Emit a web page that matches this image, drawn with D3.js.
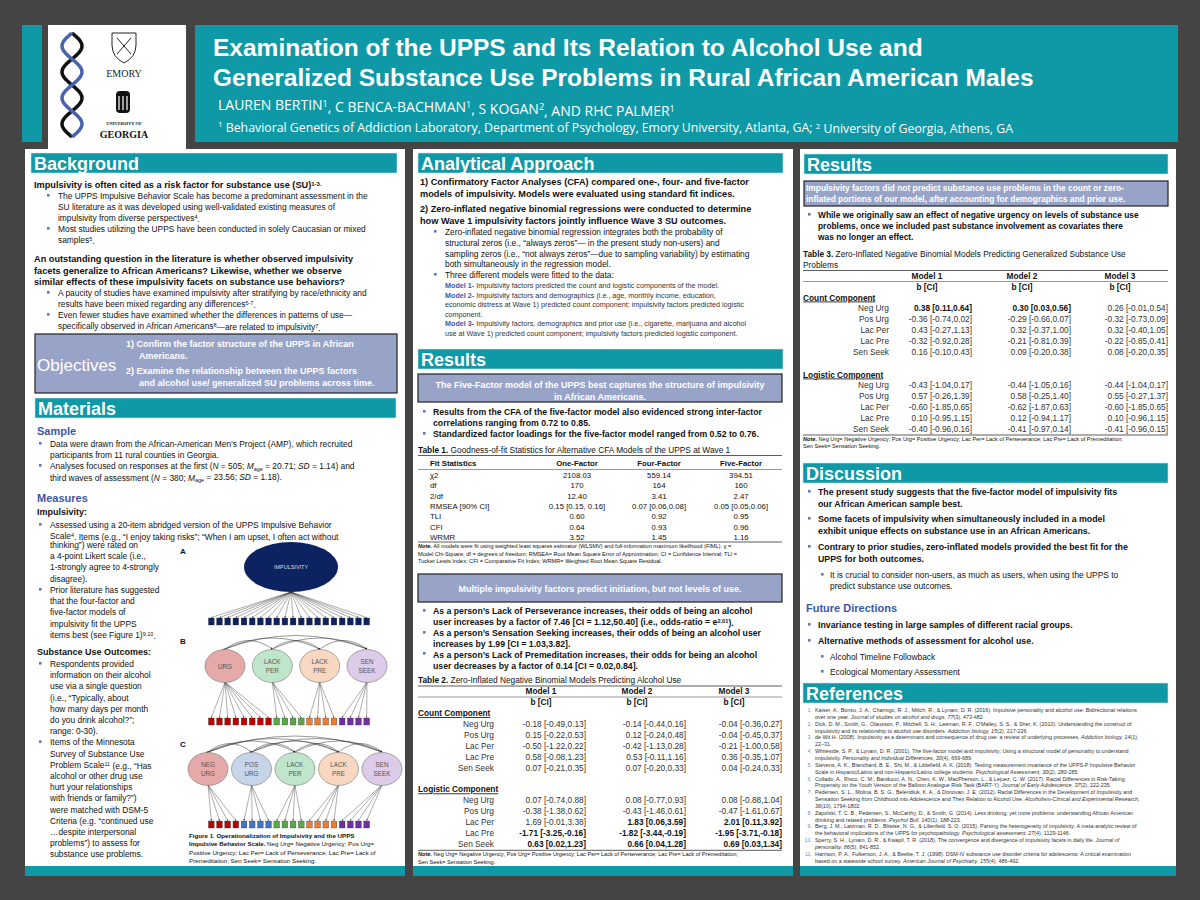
<!DOCTYPE html>
<html>
<head>
<meta charset="utf-8">
<script src="https://cdn.jsdelivr.net/npm/d3@7"></script>
<style>
  body { margin: 0; background: #444; }
  svg { display: block; font-family: "Liberation Sans", Arial, sans-serif; }
</style>
</head>
<body>
<div id="poster"></div>
<script>
// ---- data ----
const fitStats = ["χ2", "df", "2/df", "RMSEA [90% CI]", "TLI", "CFI", "WRMR"];
const fitModels = ["One-Factor", "Four-Factor", "Five-Factor"];
const oneFactor = ["2108.03", "170", "12.40", "0.15 [0.15, 0.16]", "0.60", "0.64", "3.52"];
const fourFactor = ["559.14", "164", "3.41", "0.07 [0.06,0.08]", "0.92", "0.93", "1.45"];
const fiveFactor = ["394.51", "160", "2.47", "0.05 [0.05,0.06]", "0.95", "0.96", "1.16"];

const facets = ["Neg Urg", "Pos Urg", "Lac Per", "Lac Pre", "Sen Seek"];
// "*" prefix = bold (significant)
const alcCount = [
  ["-0.18 [-0.49,0.13]", "0.15 [-0.22,0.53]", "-0.50 [-1.22,0.22]", "0.58 [-0.08,1.23]", "0.07 [-0.21,0.35]"],
  ["-0.14 [-0.44,0.16]", "0.12 [-0.24,0.48]", "-0.42 [-1.13,0.28]", "0.53 [-0.11,1.16]", "0.07 [-0.20,0.33]"],
  ["-0.04 [-0.36,0.27]", "-0.04 [-0.45,0.37]", "-0.21 [-1.00,0.58]", "0.36 [-0.35,1.07]", "0.04 [-0.24,0.33]"]
];
const alcLogistic = [
  ["0.07 [-0.74,0.88]", "-0.38 [-1.38,0.62]", "1.69 [-0.01,3.38]", "*-1.71 [-3.25,-0.16]", "*0.63 [0.02,1.23]"],
  ["0.08 [-0.77,0.93]", "-0.43 [-1.46,0.61]", "*1.83 [0.06,3.59]", "*-1.82 [-3.44,-0.19]", "*0.66 [0.04,1.28]"],
  ["0.08 [-0.88,1.04]", "-0.47 [-1.61,0.67]", "*2.01 [0.11,3.92]", "*-1.95 [-3.71,-0.18]", "*0.69 [0.03,1.34]"]
];
const suCount = [
  ["*0.38 [0.11,0.64]", "-0.36 [-0.74,0.02]", "0.43 [-0.27,1.13]", "-0.32 [-0.92,0.28]", "0.16 [-0.10,0.43]"],
  ["*0.30 [0.03,0.56]", "-0.29 [-0.66,0.07]", "0.32 [-0.37,1.00]", "-0.21 [-0.81,0.39]", "0.09 [-0.20,0.38]"],
  ["0.26 [-0.01,0.54]", "-0.32 [-0.73,0.09]", "0.32 [-0.40,1.05]", "-0.22 [-0.85,0.41]", "0.08 [-0.20,0.35]"]
];
const suLogistic = [
  ["-0.43 [-1.04,0.17]", "0.57 [-0.26,1.39]", "-0.60 [-1.85,0.65]", "0.10 [-0.95,1.15]", "-0.40 [-0.96,0.16]"],
  ["-0.44 [-1.05,0.16]", "0.58 [-0.25,1.40]", "-0.62 [-1.87,0.63]", "0.12 [-0.94,1.17]", "-0.41 [-0.97,0.14]"],
  ["-0.44 [-1.04,0.17]", "0.55 [-0.27,1.37]", "-0.60 [-1.85,0.65]", "0.10 [-0.96,1.15]", "-0.41 [-0.96,0.15]"]
];

// figure 1 factor models
const factorsB = ["URG", "LACK PER", "LACK PRE", "SEN SEEK"];
const itemsB = [8, 4, 4, 4];
const factorsC = ["NEG URG", "POS URG", "LACK PER", "LACK PRE", "SEN SEEK"];
const itemsC = [4, 4, 4, 4, 4];
const nItems = 20;

const teal = "#0f98a6", blue = "#3d57a8", boxFill = "#98a3c8";

const svg = d3.select("#poster").append("svg").attr("width", 1200).attr("height", 900);
svg.append("rect").attr("width", 1200).attr("height", 900).attr("fill", "#444");

// rich text: **bold**, __italic__, ^{sup}, _{sub}
function rich(x, y, s, o = {}) {
  const t = svg.append("text").attr("x", x).attr("y", y)
    .attr("font-size", o.size || 9).attr("fill", o.fill || "#111")
    .attr("text-anchor", o.anchor || "start");
  if (o.family) t.attr("font-family", o.family);
  if (o.deco) t.attr("text-decoration", o.deco);
  let bold = !!o.bold, ital = !!o.italic, shift = 0;
  s.split(/(\*\*|__|\^\{[^}]*\}|_\{[^}]*\})/).forEach(p => {
    if (!p) return;
    if (p === "**") { bold = !bold; return; }
    if (p === "__") { ital = !ital; return; }
    let txt = p, dy = 0, small = false;
    if (p.startsWith("^{")) { txt = p.slice(2, -1); dy = -0.38; small = true; }
    else if (p.startsWith("_{")) { txt = p.slice(2, -1); dy = 0.25; small = true; }
    const ts = t.append("tspan").text(txt)
      .attr("font-weight", bold ? "bold" : o.weight || "normal")
      .attr("font-style", ital ? "italic" : "normal");
    if (dy !== shift) { ts.attr("dy", (dy - shift) + "em"); shift = dy; }
    if (small) ts.attr("font-size", (o.size || 9) * 0.65);
  });
  return t;
}
function lines(x, y0, dy, arr, o) { arr.forEach((s, i) => rich(x, y0 + i * dy, s, o)); }
function bullet(x, y, c) {
  svg.append("rect").attr("x", x).attr("y", y - 5).attr("width", 2.6).attr("height", 2.6).attr("fill", c || "#5d79c0");
}
function header(x, y, w, label) {
  svg.append("rect").attr("x", x).attr("y", y).attr("width", w).attr("height", 20).attr("fill", teal)
    .attr("stroke", "#cfe8ea").attr("stroke-width", 0.6);
  rich(x + 3, y + 17, label, { size: 18, bold: true, fill: "#fff" });
}
function bandBox(x, y, w, h) {
  svg.append("rect").attr("x", x).attr("y", y).attr("width", w).attr("height", h)
    .attr("fill", boxFill).attr("stroke", "#222").attr("stroke-width", 1.2);
}

// ---- header ----
svg.append("rect").attr("x", 22).attr("y", 25).attr("width", 20).attr("height", 117).attr("fill", teal);
svg.append("rect").attr("x", 48).attr("y", 25).attr("width", 138).attr("height", 125).attr("fill", "#fff");
svg.append("rect").attr("x", 195).attr("y", 25).attr("width", 983).attr("height", 117).attr("fill", teal);
// logos (simplified)
const helix = d3.range(0, 1.01, 0.02);
[0, Math.PI].forEach((ph, k) => {
  svg.append("path")
    .attr("d", d3.line().x(t => 72 + 10 * Math.sin(t * 4 * Math.PI + ph)).y(t => 33 + t * 104)(helix))
    .attr("fill", "none").attr("stroke", k ? "#4a63ad" : "#111").attr("stroke-width", 3.5);
});
svg.append("path").attr("d", "M112,33 h24 v12 q0,12 -12,18 q-12,-6 -12,-18 z").attr("fill", "#fff").attr("stroke", "#222");
svg.append("path").attr("d", "M117,38 l14,16 M131,38 l-14,16").attr("stroke", "#222");
rich(124, 77, "EMORY", { size: 10, anchor: "middle", family: "Liberation Serif", fill: "#222" });
svg.append("rect").attr("x", 116).attr("y", 91).attr("width", 14).attr("height", 22).attr("rx", 4).attr("fill", "#111");
svg.append("path").attr("d", "M119,96 v14 M123,96 v14 M127,96 v14").attr("stroke", "#fff").attr("stroke-width", 1.2);
rich(124, 125, "UNIVERSITY OF", { size: 4.5, anchor: "middle", bold: true, family: "Liberation Serif", fill: "#111" });
rich(124, 138, "GEORGIA", { size: 10, anchor: "middle", bold: true, family: "Liberation Serif", fill: "#111" });

rich(213, 56, "Examination of the UPPS and Its Relation to Alcohol Use and", { size: 24.5, bold: true, fill: "#fff" });
rich(213, 86, "Generalized Substance Use Problems in Rural African American Males", { size: 24.5, bold: true, fill: "#fff" });
rich(218, 110, "LAUREN BERTIN^{1}, C BENCA-BACHMAN^{1}, S KOGAN^{2}, AND RHC PALMER^{1}", { size: 14, fill: "#fff", family: "Open Sans" });
rich(218, 130, "^{1} Behavioral Genetics of Addiction Laboratory, Department of Psychology, Emory University, Atlanta, GA; ^{2} University of Georgia, Athens, GA", { size: 12.3, fill: "#fff", family: "Open Sans" });

// ---- panels ----
[[25, 380], [413, 380], [800, 376]].forEach(([x, w]) => {
  svg.append("rect").attr("x", x).attr("y", 149).attr("width", w).attr("height", 727).attr("fill", "#fff");
  svg.append("rect").attr("x", x).attr("y", 866).attr("width", w).attr("height", 10).attr("fill", teal);
});

// ---- left column ----
header(31, 153, 366, "Background");
rich(34, 188, "Impulsivity is often cited as a risk factor for substance use (SU)^{1-3.}", { size: 9.2, bold: true });
bullet(47, 199); bullet(47, 232);
lines(58, 199, 11, ["The UPPS Impulsive Behavior Scale has become a predominant assessment in the",
  "SU literature as it was developed using well-validated existing measures of",
  "impulsivity from diverse perspectives^{4}.",
  "Most studies utilizing the UPPS have been conducted in solely Caucasian or mixed",
  "samples^{5}."], { size: 8.4 });
lines(34, 262, 11.7, ["An outstanding question in the literature is whether observed impulsivity",
  "facets generalize to African Americans? Likewise, whether we observe",
  "similar effects of these impulsivity facets on substance use behaviors?"], { size: 9.2, bold: true });
bullet(47, 296); bullet(47, 318);
lines(58, 296, 11, ["A paucity of studies have examined impulsivity after stratifying by race/ethnicity and",
  "results have been mixed regarding any differences^{5-7}.",
  "Even fewer studies have examined whether the differences in patterns of use—",
  "specifically observed in African Americans^{8}—are related to impulsivity^{7}."], { size: 8.4 });
bandBox(35, 334, 362, 59);
rich(37, 371, "Objectives", { size: 17, fill: "#fff" });
rich(126, 347, "1) Confirm the factor structure of the UPPS in African", { size: 9, bold: true, fill: "#fff" });
rich(139, 358.5, "Americans.", { size: 9, bold: true, fill: "#fff" });
rich(126, 374, "2) Examine the relationship between the UPPS factors", { size: 9, bold: true, fill: "#fff" });
rich(139, 385.5, "and alcohol use/ generalized SU problems across time.", { size: 9, bold: true, fill: "#fff" });

header(35, 398, 361, "Materials");
rich(37, 435, "Sample", { size: 11, bold: true, fill: blue });
bullet(39, 447); bullet(39, 469);
lines(50, 447, 11.2, ["Data were drawn from the African-American Men’s Project (AMP), which recruited",
  "participants from 11 rural counties in Georgia.",
  "Analyses focused on responses at the first (__N__ = 505; __M___{age} = 20.71; __SD__ = 1.14) and",
  "third waves of assessment (__N__ = 380; __M___{age} = 23.56; __SD__ = 1.18)."], { size: 8.4 });
rich(37, 502, "Measures", { size: 11, bold: true, fill: blue });
rich(37, 515, "Impulsivity:", { size: 9, bold: true });
bullet(39, 528);
lines(50, 528, 11.2, ["Assessed using a 20-item abridged version of the UPPS Impulsive Behavior",
  "Scale^{4}. Items (e.g., “I enjoy taking risks”; “When I am upset, I often act without"], { size: 8.4 });
lines(50, 548, 11.2, ["thinking”) were rated on", "a 4-point Likert scale (i.e.,", "1-strongly agree to 4-strongly", "disagree)."], { size: 8.4 });
bullet(39, 593);
lines(50, 593, 11.2, ["Prior literature has suggested", "that the four-factor and", "five-factor models of",
  "impulsivity fit the UPPS", "items best (see Figure 1)^{9,10}."], { size: 8.4 });
rich(37, 655, "Substance Use Outcomes:", { size: 9, bold: true });
bullet(39, 667); bullet(39, 745.4);
lines(50, 667, 11.2, ["Respondents provided", "information on their alcohol", "use via a single question",
  "(i.e., “Typically, about", "how many days per month", "do you drink alcohol?”;", "range: 0-30).",
  "Items of the Minnesota", "Survey of Substance Use", "Problem Scale^{11} (e.g., “Has",
  "alcohol or other drug use", "hurt your relationships", "with friends or family?”)",
  "were matched with DSM-5", "Criteria (e.g. “continued use", "…despite interpersonal",
  "problems”) to assess for", "substance use problems."], { size: 8.4 });

// ---- figure 1 ----
const defs = svg.append("defs");
defs.append("marker").attr("id", "arr").attr("viewBox", "0 0 6 6").attr("refX", 5).attr("refY", 3)
  .attr("markerWidth", 4).attr("markerHeight", 4).attr("orient", "auto")
  .append("path").attr("d", "M0,0 L6,3 L0,6 z").attr("fill", "#222");

const xItem = d3.scaleBand().domain(d3.range(nItems)).range([206, 372]).padding(0.3);
const itemFill = { "URG": "#c00000", "NEG URG": "#c00000", "POS URG": "#4472c4", "LACK PER": "#5aa845",
  "LACK PRE": "#ed7d31", "SEN SEEK": "#7030a0" };
const facFill = { "URG": "#e6a9a9", "NEG URG": "#e6a9a9", "POS URG": "#c6d5ea", "LACK PER": "#bfe6cb",
  "LACK PRE": "#f8d8c1", "SEN SEEK": "#dccbe9" };

function loadings(fx, fy, items, top, color) {
  items.forEach(i => {
    svg.append("line").attr("x1", fx).attr("y1", fy)
      .attr("x2", xItem(i) + xItem.bandwidth() / 2).attr("y2", top - 0.5)
      .attr("stroke", "#333").attr("stroke-width", 0.4).attr("marker-end", "url(#arr)");
    svg.append("rect").attr("x", xItem(i)).attr("y", top).attr("width", xItem.bandwidth()).attr("height", 7)
      .attr("fill", color).attr("stroke", "#333").attr("stroke-width", 0.3);
  });
}
function factorModel(label, factors, counts, yLab, cy, itemTop, xr, rx) {
  rich(180, yLab, label, { size: 8, bold: true });
  const xf = d3.scalePoint().domain(factors).range(xr);
  for (let a = 0; a < factors.length; a++) for (let b = a + 1; b < factors.length; b++) {
    const x1 = xf(factors[a]), x2 = xf(factors[b]), h = 6 + (b - a) * 2.5;
    svg.append("path").attr("d", `M${x1},${cy - 17} Q${(x1 + x2) / 2},${cy - 17 - h * 2} ${x2},${cy - 17}`)
      .attr("fill", "none").attr("stroke", "#333").attr("stroke-width", 0.5)
      .attr("marker-end", "url(#arr)").attr("marker-start", "url(#arr)");
  }
  let start = 0;
  factors.forEach((f, k) => {
    loadings(xf(f), cy + 16, d3.range(start, start + counts[k]), itemTop, itemFill[f]);
    start += counts[k];
  });
  factors.forEach(f => {
    svg.append("ellipse").attr("cx", xf(f)).attr("cy", cy).attr("rx", rx).attr("ry", 16.5)
      .attr("fill", facFill[f]).attr("stroke", "#777").attr("stroke-width", 0.6);
    const parts = f.split(" ");
    parts.forEach((p, i) => rich(xf(f), cy + 2.5 + (i - (parts.length - 1) / 2) * 8.5, p,
      { size: 6.3, anchor: "middle", fill: "#555" }));
  });
}
rich(180, 554, "A", { size: 8, bold: true });
loadings(291, 592, d3.range(nItems), 618, "#0d2260");
svg.append("ellipse").attr("cx", 291).attr("cy", 567).attr("rx", 47).attr("ry", 25).attr("fill", "#0d2260");
rich(291, 569, "IMPULSIVITY", { size: 5.5, anchor: "middle", fill: "#ddd" });
factorModel("B", factorsB, itemsB, 644, 666, 718, [225, 367], 20);
factorModel("C", factorsC, itemsC, 747, 769, 821, [208, 382], 20);
lines(189, 838, 8.3, ["**Figure 1**. **Operationalization of Impulsivity and the UPPS**",
  "**Impulsive Behavior Scale.** Neg Urg= Negative Urgency; Pos Urg=",
  "Positive Urgency; Lac Per= Lack of Perseverance; Lac Pre= Lack of",
  "Premeditation; Sen Seek= Sensation Seeking."], { size: 6.2 });

// ---- middle column ----
header(418, 153, 365, "Analytical Approach");
lines(420, 185, 11.5, ["1) Confirmatory Factor Analyses (CFA) compared one-, four- and five-factor",
  "models of impulsivity. Models were evaluated using standard fit indices."], { size: 9.2, bold: true });
lines(420, 212, 11.8, ["2) Zero-inflated negative binomial regressions were conducted to determine",
  "how Wave 1 impulsivity factors jointly influence Wave 3 SU outcomes."], { size: 9.2, bold: true });
bullet(434, 235); bullet(434, 278);
lines(445, 235, 10.8, ["Zero-inflated negative binomial regression integrates both the probability of",
  "structural zeros (i.e., “always zeros”— in the present study non-users) and",
  "sampling zeros (i.e., “not always zeros”—due to sampling variability) by estimating",
  "both simultaneously in the regression model.",
  "Three different models were fitted to the data:"], { size: 8.4 });
lines(445, 288, 9.6, ["**Model 1-** Impulsivity factors predicted the count and logistic components of the model.",
  "**Model 2-** Impulsivity factors and demographics (i.e., age, monthly income, education,",
  "economic distress at Wave 1) predicted count component; impulsivity factors predicted logistic",
  "component.",
  "**Model 3-** Impulsivity factors, demographics and prior use (i.e., cigarette, marijuana and alcohol",
  "use at Wave 1) predicted count component; impulsivity factors predicted logistic component."], { size: 7.2, fill: "#333" });
svg.selectAll("tspan").filter(function () { return /^Model \d-$/.test(this.textContent); }).attr("fill", blue);

header(418, 349, 365, "Results");
bandBox(418, 374, 364, 28);
lines(600, 388, 11.5, ["The Five-Factor model of the UPPS best captures the structure of impulsivity",
  "in African Americans."], { size: 9, bold: true, fill: "#fff", anchor: "middle" });
bullet(423, 415); bullet(423, 437);
lines(433, 415, 10.9, ["Results from the CFA of the five-factor model also evidenced strong inter-factor",
  "correlations ranging from 0.72 to 0.85.",
  "Standardized factor loadings for the five-factor model ranged from 0.52 to 0.76."], { size: 8.7, bold: true });

function rule(x1, x2, y, w, c) {
  svg.append("line").attr("x1", x1).attr("x2", x2).attr("y1", y).attr("y2", y)
    .attr("stroke", c || "#333").attr("stroke-width", w || 0.8);
}
// table 1
rich(418, 453, "**Table 1.** Goodness-of-fit Statistics for Alternative CFA Models of the UPPS at Wave 1", { size: 8.3 });
rule(418, 782, 455.5);
const t1x = d3.scalePoint().domain(fitModels).range([577, 741]);
rich(430, 466, "Fit Statistics", { size: 7.8, bold: true });
fitModels.forEach(m => rich(t1x(m), 466, m, { size: 7.8, bold: true, anchor: "middle" }));
rule(418, 782, 469.5, 1.2, "#999");
const t1y = d3.scaleLinear().domain([0, fitStats.length - 1]).range([478, 540]);
fitStats.forEach((s, i) => {
  rich(430, t1y(i), s, { size: 7.8 });
  [oneFactor, fourFactor, fiveFactor].forEach((col, k) => rich(t1x(fitModels[k]), t1y(i), col[i], { size: 7.8, anchor: "middle" }));
});
rule(418, 782, 542);
lines(418, 548, 7.6, ["**__Note.__** All models were fit using weighted least squares estimator (WLSMV) and full-information maximum likelihood (FIML). χ =",
  "Model Chi-Square; df = degrees of freedom; RMSEA= Root Mean Square Error of Approximation; CI = Confidence Interval; TLI =",
  "Tucker Lewis Index; CFI = Comparative Fit Index; WRMR= Weighted Root Mean Square Residual."], { size: 5.6 });

bandBox(418, 574, 364, 28);
rich(600, 592, "Multiple impulsivity factors predict initiation, but not levels of use.", { size: 9, bold: true, fill: "#fff", anchor: "middle" });
bullet(423, 614); bullet(423, 636); bullet(423, 657);
lines(433, 614, 10.9, ["As a person’s Lack of Perseverance increases, their odds of being an alcohol",
  "user increases by a factor of 7.46 [CI = 1.12,50.40] (i.e., odds-ratio = e^{2.01}).",
  "As a person’s Sensation Seeking increases, their odds of being an alcohol user",
  "increases by 1.99 [CI = 1.03,3.82].",
  "As a person’s Lack of Premeditation increases, their odds for being an alcohol",
  "user decreases by a factor of 0.14 [CI = 0.02,0.84]."], { size: 8.7, bold: true });

// regression tables (2 and 3)
function regTable(o) {
  const { x0, x1, title, top, labelX, valX, headX, count, logistic, size, noteLines } = o;
  title.forEach((s, i) => rich(x0, top + i * 10.5, s, { size: 8.3 }));
  const y = top + (title.length - 1) * 10.5 + 3;
  rule(x0, x1, y);
  ["Model 1", "Model 2", "Model 3"].forEach((m, k) => {
    rich(headX[k], y + 8, m, { size: 8.3, bold: true, anchor: "middle" });
    rich(headX[k], y + 19, "b [CI]", { size: 8.3, bold: true, anchor: "middle" });
  });
  rule(x0, x1, y + 11, 1.2, "#999");
  const ry = d3.scaleLinear().domain([0, facets.length - 1]).range([0, 4 * o.step]);
  const block = (name, data, yy) => {
    rich(x0, yy, name, { size: 8.3, bold: true, deco: "underline" });
    facets.forEach((f, i) => {
      const yi = yy + 10.5 + ry(i);
      rich(labelX, yi, f, { size, anchor: "end", fill: "#333" });
      data.forEach((col, k) => {
        const v = col[i], b = v.startsWith("*");
        rich(valX[k], yi, b ? v.slice(1) : v, { size, anchor: "end", bold: b, fill: b ? "#111" : "#333" });
      });
    });
  };
  block("Count Component", count, y + 30);
  const ly = y + 30 + 4 * o.step + o.gap;
  block("Logistic Component", logistic, ly);
  const end = ly + 10.5 + 4 * o.step + 3;
  rule(x0, x1, end);
  noteLines.forEach((s, i) => rich(x0, end + 6 + i * 7.4, s, { size: 5.6 }));
}
regTable({ x0: 418, x1: 782, top: 683, title: ["**Table 2.** Zero-Inflated Negative Binomial Models Predicting Alcohol Use"],
  labelX: 494, valX: [586, 686, 782], headX: [541, 637, 734], count: alcCount, logistic: alcLogistic,
  size: 8.3, step: 11.1, gap: 32,
  noteLines: ["**__Note.__** Neg Urg= Negative Urgency; Pos Urg= Positive Urgency; Lac Per= Lack of Perseverance; Lac Pre= Lack of Premeditation;",
    "Sen Seek= Sensation Seeking."] });

// ---- right column ----
header(804, 154, 364, "Results");
bandBox(804, 181, 364, 25);
lines(806, 191, 11.3, ["Impulsivity factors did not predict substance use problems in the count or zero-",
  "inflated portions of our model, after accounting for demographics and prior use."], { size: 8.4, bold: true, fill: "#fff" });
bullet(808, 218);
lines(818, 218, 11, ["While we originally saw an effect of negative urgency on levels of substance use",
  "problems, once we included past substance involvement as covariates there",
  "was no longer an effect."], { size: 8.4, bold: true });
regTable({ x0: 803, x1: 1168, top: 257, title: ["**Table 3.** Zero-Inflated Negative Binomial Models Predicting Generalized Substance Use", "Problems"],
  labelX: 889, valX: [972, 1071, 1168], headX: [927, 1022, 1120], count: suCount, logistic: suLogistic,
  size: 8.3, step: 11, gap: 33,
  noteLines: ["**__Note.__** Neg Urg= Negative Urgency; Pos Urg= Positive Urgency; Lac Per= Lack of Perseverance; Lac Pre= Lack of Premeditation;",
    "Sen Seek= Sensation Seeking."] });

header(803, 463, 365, "Discussion");
[[495, ["The present study suggests that the five-factor model of impulsivity fits", "our African American sample best."]],
 [522, ["Some facets of impulsivity when simultaneously included in a model", "exhibit unique effects on substance use in an African Americans."]],
 [550, ["Contrary to prior studies, zero-inflated models provided the best fit for the", "UPPS for both outcomes."]]
].forEach(([y, ls]) => { bullet(808, y); lines(818, y, 11.6, ls, { size: 8.8, bold: true }); });
bullet(821, 578);
lines(830, 578, 11, ["It is crucial to consider non-users, as much as users, when using the UPPS to",
  "predict substance use outcomes."], { size: 8.4 });
rich(806, 612, "Future Directions", { size: 11, bold: true, fill: blue });
bullet(808, 628); rich(818, 628, "Invariance testing in large samples of different racial groups.", { size: 8.8, bold: true });
bullet(808, 644); rich(818, 644, "Alternative methods of assessment for alcohol use.", { size: 8.8, bold: true });
bullet(821, 660); rich(830, 660, "Alcohol Timeline Followback", { size: 8.4 });
bullet(821, 675); rich(830, 675, "Ecological Momentary Assessment", { size: 8.4 });

header(803, 683, 365, "References");
const refs = [
  ["Kaiser, A., Bonsu, J. A., Charnigo, R. J., Milich, R., & Lynam, D. R. (2016). Impulsive personality and alcohol use: Bidirectional relations",
   "over one year. __Journal of studies on alcohol and drugs, 77__(3), 473-482."],
  ["Dick, D. M., Smith, G., Olausson, P., Mitchell, S. H., Leeman, R. F., O'Malley, S. S., & Sher, K. (2010). Understanding the construct of",
   "impulsivity and its relationship to alcohol use disorders. __Addiction biology, 15__(2), 217-226."],
  ["de Wit H. (2008). Impulsivity as a determinant and consequence of drug use: a review of underlying processes. __Addiction biology, 14__(1),",
   "22–31."],
  ["Whiteside, S. P., & Lynam, D. R. (2001). The five-factor model and impulsivity: Using a structural model of personality to understand",
   "impulsivity. __Personality and Individual Differences, 30__(4), 669-689."],
  ["Stevens, A. K., Blanchard, B. E., Shi, M., & Littlefield, A. K. (2018). Testing measurement invariance of the UPPS-P Impulsive Behavior",
   "Scale in Hispanic/Latino and non-Hispanic/Latino college students. __Psychological Assessment, 30__(2), 280-285."],
  ["Collado, A., Risco, C. M., Banducci, A. N., Chen, K. W., MacPherson, L., & Lejuez, C. W. (2017). Racial Differences in Risk-Taking",
   "Propensity on the Youth Version of the Balloon Analogue Risk Task (BART-Y). __Journal of Early Adolescence, 37__(2), 222-235."],
  ["Pedersen, S. L., Molina, B. S. G., Belendiuk, K. A., & Donovan, J. E. (2012). Racial Differences in the Development of Impulsivity and",
   "Sensation Seeking from Childhood into Adolescence and Their Relation to Alcohol Use. __Alcoholism-Clinical and Experimental Research,__",
   "__36__(10), 1794-1802."],
  ["Zapolski, T. C. B., Pedersen, S., McCarthy, D., & Smith, G. (2014). Less drinking, yet more problems: understanding African American",
   "drinking and related problems. __Psychol Bull, 140__(1), 188-223."],
  ["Berg, J. M., Latzman, R. D., Bliwise, N. G., & Lilienfeld, S. O. (2015). Parsing the heterogeneity of impulsivity: A meta-analytic review of",
   "the behavioral implications of the UPPS for psychopathology. __Psychological assessment, 27__(4), 1129-1146."],
  ["Sperry, S. H., Lynam, D. R., & Kwapil, T. R. (2018). The convergence and divergence of impulsivity facets in daily life. __Journal of__",
   "__personality, 86__(5), 841-852."],
  ["Harrison, P. A., Fulkerson, J. A., & Beebe, T. J. (1998). DSM-IV substance use disorder criteria for adolescents: A critical examination",
   "based on a statewide school survey. __American Journal of Psychiatry, 155__(4), 486-492."]
];
let refY = 712;
refs.forEach((r, i) => {
  rich(812, refY, (i + 1) + ".", { size: 5.4, anchor: "end", fill: "#7a8cc4" });
  r.forEach((s, j) => rich(815, refY + j * 6.85, s, { size: 5.4, fill: "#333" }));
  refY += r.length * 6.85;
});
</script>
</body>
</html>
